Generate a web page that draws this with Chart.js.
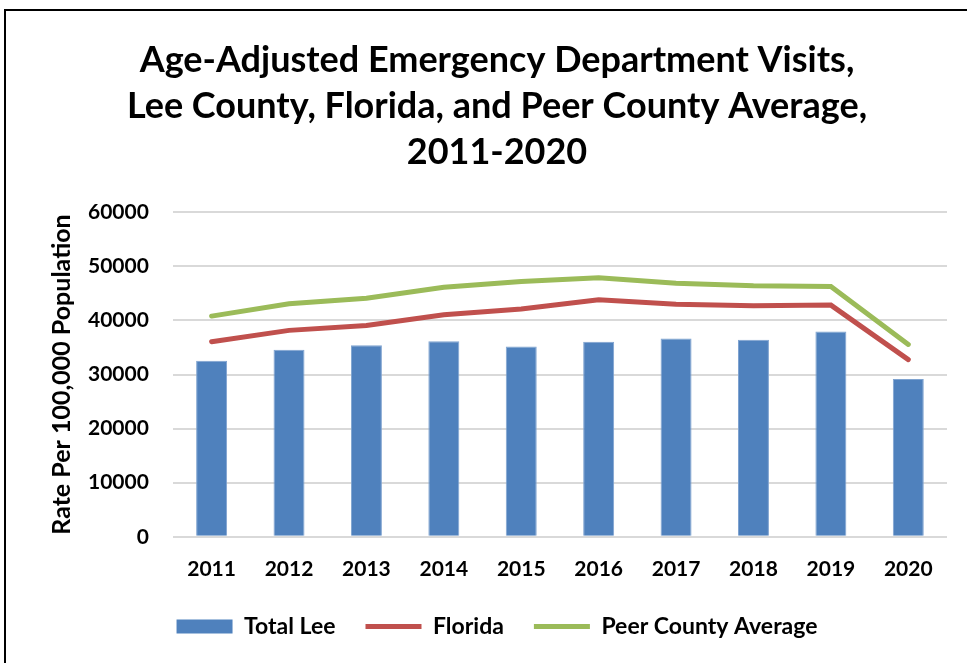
<!DOCTYPE html>
<html>
<head>
<meta charset="utf-8">
<script src="https://cdn.jsdelivr.net/npm/chart.js@4"></script>
<style>
  body { margin:0; background:#fff; }
  #frame { position:absolute; left:4px; top:9px; width:1000px; height:700px; border:2px solid #000; border-right:none; border-bottom:none; }
  #wrap { position:absolute; left:0; top:0; width:967px; height:663px; }
</style>
</head>
<body>
<div id="frame"></div>
<div id="wrap"><canvas id="myChart"></canvas></div>
<script>
var years = ['2011','2012','2013','2014','2015','2016','2017','2018','2019','2020']
var totalLee = [32560, 34590, 35390, 36130, 35200, 36070, 36680, 36440, 37970, 29170]
var florida = [36070, 38160, 39080, 41050, 42100, 43820, 43010, 42710, 42830, 32750]
var peerAvg = [40800, 43090, 44120, 46150, 47200, 47890, 46890, 46410, 46280, 35570]
var titleLines = ['Age-Adjusted Emergency Department Visits,', 'Lee County, Florida, and Peer County Average,', '2011-2020']

var fnt = 'Lato, Calibri, "DejaVu Sans", sans-serif'

function setChart(){
    var ctx = document.getElementById('myChart');
    var myChart = new Chart(ctx, {
    data: {
        labels: years,
        datasets: [{
            type: 'bar',
            label: 'Total Lee',
            data: totalLee,
            backgroundColor: '#4F81BD',
            borderColor: '#7FA3D0',
            borderWidth: 1,
            barPercentage: 0.4,
            categoryPercentage: 1,
            order: 2
        },{
            type: 'line',
            label: 'Florida',
            data: florida,
            borderColor: '#C0504D',
            backgroundColor: '#C0504D',
            borderWidth: 5,
            pointRadius: 0,
            borderCapStyle: 'round',
            order: 1
        },{
            type: 'line',
            label: 'Peer County Average',
            data: peerAvg,
            borderColor: '#9BBB59',
            backgroundColor: '#9BBB59',
            borderWidth: 5,
            pointRadius: 0,
            borderCapStyle: 'round',
            order: 0
        }]
    },
    options: {
        responsive: true,
        maintainAspectRatio: false,
        animation: false,
        layout: { padding: { left: 47, right: 20, top: 0, bottom: 15 } },
        plugins: {
            title: {
                display: true,
                text: titleLines,
                color: '#000',
                font: { family: fnt, size: 36, weight: 'bold', lineHeight: 1.28 },
                padding: { top: 37, bottom: 37 }
            },
            legend: {
                position: 'bottom',
                labels: {
                    color: '#000',
                    font: { family: fnt, size: 23, weight: 'bold' },
                    usePointStyle: true,
                    pointStyleWidth: 56,
                    boxHeight: 14,
                    padding: 30,
                    generateLabels: function(chart){
                        return chart.data.datasets.map(function(ds, i){
                            return {
                                text: ds.label,
                                fillStyle: ds.backgroundColor,
                                strokeStyle: ds.type == 'bar' ? ds.backgroundColor : ds.borderColor,
                                lineWidth: ds.type == 'bar' ? 0 : 5,
                                pointStyle: ds.type == 'bar' ? 'rect' : 'line',
                                datasetIndex: i,
                                fontColor: '#000'
                            }
                        })
                    }
                }
            },
            tooltip: { enabled: false }
        },
        scales: {
            x: {
                grid: { display: false, drawTicks: false },
                border: { display: false },
                ticks: { color: '#000', font: { family: fnt, size: 21, weight: 'bold' }, padding: 20 },
                afterFit: function(scale){ scale.height = scale.height - 17 }
            },
            y: {
                min: 0,
                max: 60000,
                ticks: {
                    stepSize: 10000,
                    color: '#000',
                    font: { family: fnt, size: 21, weight: 'bold' },
                    padding: 24,
                    callback: function(v){ return String(v) }
                },
                grid: { color: '#D9D9D9', lineWidth: 2, drawTicks: false },
                border: { display: false },
                title: {
                    display: true,
                    text: 'Rate Per 100,000 Population',
                    color: '#000',
                    font: { family: fnt, size: 25, weight: 'bold' },
                    padding: 0
                },
                afterFit: function(scale){ scale.width = scale.width - 13 }
            }
        }
    }
    });
};

setChart()
</script>
</body>
</html>
